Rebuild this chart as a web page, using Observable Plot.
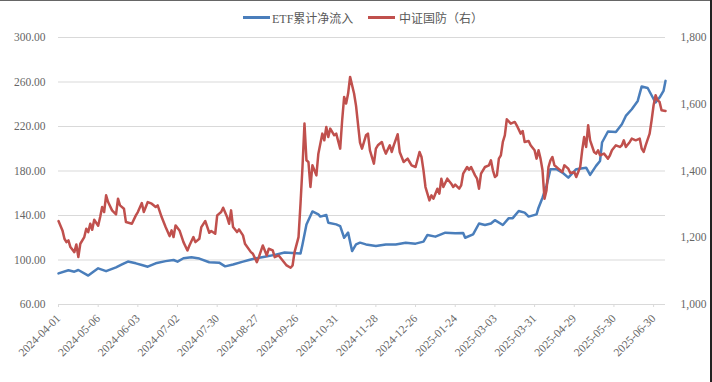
<!DOCTYPE html>
<html><head><meta charset="utf-8">
<script src="https://cdn.jsdelivr.net/npm/d3@7"></script>
<script src="https://cdn.jsdelivr.net/npm/@observablehq/plot@0.6"></script>
<style>
body{margin:0;background:#fff;}
#wrap{position:relative;width:712px;height:382px;overflow:hidden;font-family:"Liberation Serif","Noto Sans CJK SC",serif;}
#legend{position:relative;height:28px;}
.sw{position:absolute;top:16px;height:3px;width:27px}
.lt{position:absolute;top:9px;font-size:12px;color:#595959;white-space:nowrap}
#ft{position:absolute;top:0;left:0;width:712px;height:1px;background:#666}
#fr{position:absolute;top:0;right:0;width:2px;height:382px;background:#222}
</style></head>
<body>
<div id="wrap">
<div id="legend">
<div class="sw" style="left:243px;background:#4a7ebb"></div><div class="lt" style="left:272px">ETF累计净流入</div>
<div class="sw" style="left:368px;background:#c0504d"></div><div class="lt" style="left:399px">中证国防（右）</div>
</div>
<div id="chart"></div>
<div id="ft"></div><div id="fr"></div>
</div>
<script>
const tickDays = [0,20,40,60,80,100,120,140,160,180,200,220,240,260,280,300];
const tickLabels = ["2024-04-01","2024-05-06","2024-06-03","2024-07-02","2024-07-30","2024-08-27","2024-09-26","2024-10-31","2024-11-28","2024-12-26","2025-01-24","2025-03-03","2025-03-31","2025-04-29","2025-05-30","2025-06-30"];
const leftTicks = [60,100,140,180,220,260,300];
const rightTicks = [1000,1200,1400,1600,1800];

const etfDay = [0,5,8,10,15,20,24,29,32,35,39,42,45,49,54,58,60,63,67,71,76,81,84,88,93,96,99,104,109,114,120,122,123,125,128,131,132,135,136,140,142,144,146,148,150,152,155,160,165,170,175,180,184,186,190,195,200,204,205,209,212,215,218,220,224,227,229,232,235,237,241,242,244,246,248,251,254,257,261,266,268,271,273,274,277,281,284,286,289,292,294,297,300,301,303,305,306];
const etfVal = [88,90.8,89.5,91,86,92.5,90,93.4,96,98.6,97,95.5,94,97,99,100,98.5,101.6,102.5,101.3,98,97.6,94.3,96,98.5,100,101.3,103,104.6,106.7,106,105.8,114,132,143.6,141,139,140.5,133.5,132,130.5,120,124.6,108,114,115.6,114,112.5,114,114,115.6,114.7,116.5,122.5,121,124.6,124,124.3,120,123,132.8,131.5,132.8,135.8,131.5,137.6,137.6,144,142.6,139,141,147,156,166.6,181.6,181.6,178.6,174,181.6,183,176.5,184.6,189,205.6,215.5,215,222,229.5,235.5,243,256,254.6,244.7,241.7,246,252,261];

const csiDay = [0,2,3,4,5,6,8,9,10,11,13,14,15,16,17,18,20,21,22,23,24,25,27,29,30,31,33,34,37,39,40,42,43,45,47,49,50,52,54,56,57,58,59,61,63,65,66,68,69,71,72,74,76,77,79,80,82,83,85,86,87,88,90,91,93,94,97,98,100,101,103,105,106,108,109,111,113,115,117,118,119,121,122,123,124,125,126,127,128,129,130,131,133,134,135,136,137,139,140,142,143,144,145,146,147,149,150,151,152,153,155,156,157,159,160,161,163,164,165,167,168,169,171,172,174,176,177,178,180,182,183,184,185,187,188,189,191,192,193,194,196,198,199,200,202,203,204,206,207,208,210,211,212,213,215,217,218,219,220,221,222,223,224,225,226,228,230,231,233,234,235,237,238,240,241,242,243,244,245,246,247,248,249,250,252,254,255,257,258,260,261,263,264,265,266,267,268,270,271,272,273,275,277,278,279,281,283,284,285,286,288,289,291,293,294,295,296,298,299,300,301,302,303,304,306];
const csiVal = [1250,1222,1197,1187,1192,1172,1157,1180,1142,1182,1202,1227,1217,1242,1224,1254,1236,1262,1292,1277,1327,1307,1282,1270,1317,1297,1287,1247,1242,1267,1277,1304,1277,1307,1302,1292,1297,1262,1232,1205,1222,1202,1237,1222,1187,1162,1177,1202,1187,1197,1232,1250,1215,1220,1212,1267,1277,1290,1262,1242,1282,1232,1217,1225,1207,1182,1157,1152,1127,1142,1177,1147,1167,1162,1142,1147,1132,1117,1110,1117,1157,1202,1302,1412,1542,1432,1427,1352,1417,1402,1387,1452,1512,1492,1532,1502,1527,1507,1512,1467,1552,1622,1602,1632,1682,1632,1595,1540,1485,1467,1507,1512,1462,1422,1467,1477,1487,1467,1452,1477,1457,1477,1510,1457,1427,1437,1427,1417,1412,1457,1442,1402,1352,1312,1327,1317,1347,1332,1377,1352,1377,1362,1352,1359,1347,1357,1392,1412,1404,1412,1387,1377,1347,1392,1412,1417,1432,1402,1382,1387,1437,1447,1487,1507,1555,1542,1547,1537,1512,1520,1487,1490,1477,1462,1437,1462,1437,1402,1317,1342,1412,1432,1442,1417,1407,1397,1417,1407,1394,1397,1382,1412,1462,1502,1472,1537,1492,1457,1452,1462,1447,1452,1437,1447,1462,1477,1472,1477,1492,1472,1487,1497,1492,1497,1467,1457,1477,1512,1552,1597,1627,1612,1607,1582,1580];

// right axis (1000–1800) mapped onto left axis (60–300)
const toLeft = r => 60 + (r - 1000) * 240 / 800;
const etf = etfDay.map((d, i) => ({day: d, v: etfVal[i]}));
const csi = csiDay.map((d, i) => ({day: d, v: toLeft(csiVal[i])}));

const font = "Liberation Serif";
const chart = Plot.plot({
  width: 712, height: 354,
  marginLeft: 58, marginRight: 47, marginTop: 9, marginBottom: 78,
  style: {fontFamily: font, fontSize: "11px", color: "#595959", background: "#fff"},
  x: {domain: [0, 306], axis: null},
  y: {domain: [60, 300], axis: null},
  marks: [
    Plot.ruleY(leftTicks, {stroke: "#d9d9d9", strokeWidth: 1}),
    Plot.axisY(leftTicks, {anchor: "left", tickSize: 0, tickPadding: 13, tickFormat: d => d.toFixed(2), fontSize: 11.5, color: "#666", label: null}),
    Plot.axisY(rightTicks.map(toLeft), {anchor: "right", tickSize: 0, tickPadding: 15, textAnchor: "start", tickFormat: (v, i) => d3.format(",")(rightTicks[i]), fontSize: 11.5, color: "#666", label: null}),
    Plot.axisX(tickDays, {anchor: "bottom", tickSize: 3, tickPadding: 9, tickRotate: -45, stroke: "#d9d9d9", fill: "#666", fontSize: 11.5, tickFormat: (d, i) => tickLabels[i], label: null}),
    Plot.line(etf, {x: "day", y: "v", stroke: "#4a7ebb", strokeWidth: 2.5, curve: "linear"}),
    Plot.line(csi, {x: "day", y: "v", stroke: "#c0504d", strokeWidth: 2.5, curve: "linear"})
  ]
});
document.getElementById("chart").appendChild(chart);
</script>
</body></html>
